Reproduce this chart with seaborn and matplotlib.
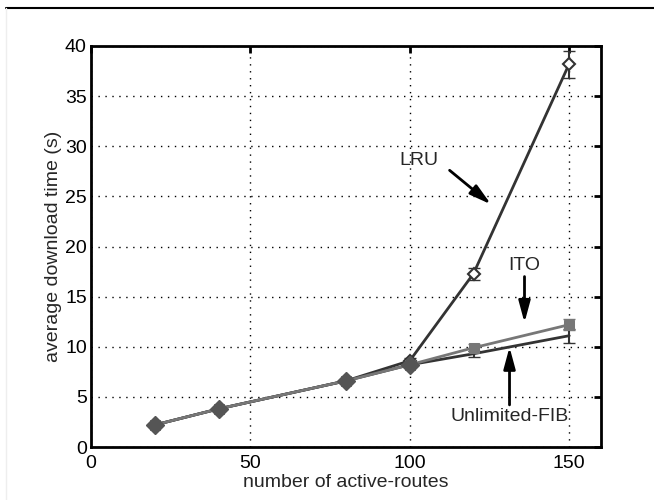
import matplotlib.pyplot as plt
import matplotlib.lines as mlines
import numpy as np
import pandas as pd
import seaborn as sns

routes = [20, 40, 80, 100, 120, 150]
lru = [2.2, 3.8, 6.6, 8.6, 17.3, 38.2]
lru_err = [0.1, 0.1, 0.15, 0.3, 0.6, 1.35]
ito = [2.2, 3.8, 6.6, 8.2, 9.9, 12.2]
ito_err = [0.1, 0.1, 0.15, 0.2, 0.35, 0.55]
unl = [2.2, 3.8, 6.6, 8.2, 9.3, 11.1]
unl_err = [0.1, 0.1, 0.15, 0.2, 0.3, 0.7]

sns.set_style("white")
plt.rcParams['font.family'] = ['Liberation Sans', 'DejaVu Sans']

fig = plt.figure(figsize=(6.54, 5.0), dpi=100)
ax = fig.add_axes([91 / 654, 1 - 447 / 500, 510 / 654, 401 / 500])

df = pd.DataFrame({'x': routes, 'LRU': lru, 'ITO': ito, 'Unlimited-FIB': unl})

# error bars first
ax.errorbar(routes, lru, yerr=lru_err, fmt='none', ecolor='#333333', elinewidth=1.5, capsize=4, zorder=2)
ax.errorbar(routes, ito, yerr=ito_err, fmt='none', ecolor='#777777', elinewidth=1.5, capsize=4, zorder=2)
ax.errorbar(routes, unl, yerr=unl_err, fmt='none', ecolor='#333333', elinewidth=1.5, capsize=4, zorder=2)

sns.lineplot(data=df, x='x', y='LRU', ax=ax, color='#333333', lw=2, marker='D',
             markersize=6.5, markerfacecolor='white', markeredgecolor='#333333', markeredgewidth=1.5, zorder=3)
sns.lineplot(data=df, x='x', y='Unlimited-FIB', ax=ax, color='#333333', lw=2, zorder=4)
sns.lineplot(data=df, x='x', y='ITO', ax=ax, color='#777777', lw=2, marker='s',
             markersize=7, markerfacecolor='#777777', markeredgecolor='#777777', zorder=5)
# filled diamonds where the curves overlap
ax.plot(routes[:4], unl[:4], ls='none', marker='D', markersize=9.5, color='#555555', zorder=6)

ax.set_xlim(0, 160)
ax.set_ylim(0, 40)
ax.set_xticks([0, 50, 100, 150])
ax.set_yticks(range(0, 41, 5))
ax.grid(True, color='black', linestyle=(0, (1, 4)), linewidth=1)
for s in ax.spines.values():
    s.set_linewidth(2)
    s.set_color('black')
ax.tick_params(direction='in', length=5, width=2, top=True, right=True,
               labelsize=14, pad=3, colors='black')
ax.tick_params(axis='x', pad=6)
ax.set_xlabel('number of active-routes', fontsize=14, labelpad=1)
ax.set_ylabel('average download time (s)', fontsize=14, labelpad=2)

arrow = dict(arrowstyle='-|>,head_length=1.3,head_width=0.35', color='black', lw=2, shrinkA=0, shrinkB=0)
ax.annotate('', xy=(125.5, 24.2), xytext=(112.5, 27.6), arrowprops=arrow)
ax.text(103, 28.6, 'LRU', fontsize=14, ha='center', va='center')
ax.annotate('', xy=(136, 12.4), xytext=(136, 17.0), arrowprops=arrow)
ax.text(136, 18.1, 'ITO', fontsize=14, ha='center', va='center')
ax.annotate('', xy=(131.3, 9.97), xytext=(131.3, 4.2), arrowprops=arrow)
ax.text(131.3, 3.0, 'Unlimited-FIB', fontsize=14, ha='center', va='center')

fig.add_artist(mlines.Line2D([6 / 654, 1], [1 - 8 / 500, 1 - 8 / 500], color='black', lw=1.5))
fig.add_artist(mlines.Line2D([6 / 654, 6 / 654], [0, 1 - 8 / 500], color='#eeeeee', lw=1))

fig.savefig('out.png', dpi=100)
